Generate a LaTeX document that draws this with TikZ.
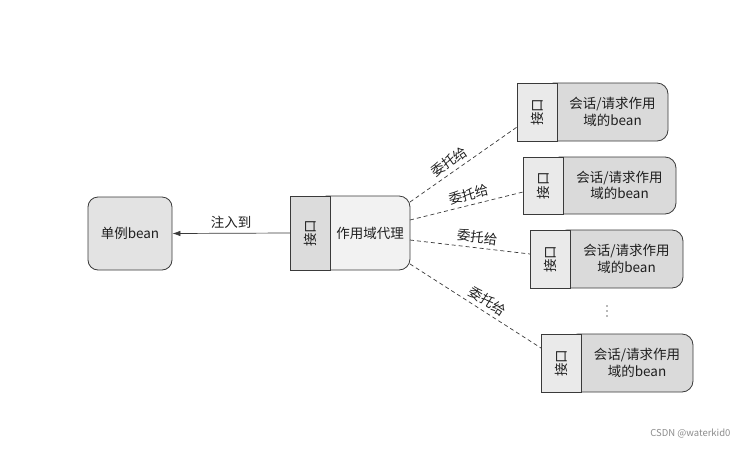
\documentclass[tikz,border=0pt]{standalone}
\usepackage{fontspec}
\usepackage{graphicx}
\newfontfamily\cjk{Noto Sans CJK SC}
\usetikzlibrary{arrows.meta,backgrounds}
\definecolor{edge}{HTML}{3A3A3A}
\definecolor{singfill}{HTML}{E3E3E3}
\definecolor{pxif}{HTML}{DCDCDC}
\definecolor{pxmain}{HTML}{F2F2F2}
\definecolor{rif}{HTML}{EAEAEA}
\definecolor{rmain}{HTML}{DADADA}
\begin{document}
\begin{tikzpicture}[x=1pt,y=-1pt,
  every node/.style={font=\cjk\fontsize{13.5}{16.5}\selectfont, text=black!88},
  holder/.style={inner sep=0pt, outer sep=0pt, align=center},
  ifbox/.style={draw=edge, line width=0.8pt, inner sep=0pt, outer sep=0pt, minimum width=40pt},
  bgshape/.style={draw=edge, line width=0.8pt, rounded corners=11pt},
  conn/.style={draw=edge, line width=0.7pt},
  deleg/.style={conn, dash pattern=on 4pt off 3pt},
  dlabel/.style={sloped, above, inner sep=1pt, yshift=3pt},
  dotmark/.style={fill=black!55, draw=none}]

\useasboundingbox (0,0) rectangle (745,448);

% singleton bean
\node[draw=edge, line width=0.8pt, fill=singfill, rounded corners=10pt,
      minimum width=84pt, minimum height=73pt, inner sep=0pt] (single) at (130,233.5) {单例bean};

% scoped proxy
\node[holder, minimum width=80pt, minimum height=74pt] (proxy) at (370,233) {作用域代理};
\node[ifbox, fill=pxif, minimum height=74pt, anchor=east] (proxyif) at (proxy.west) {\rotatebox{90}{接口}};

% session/request scoped beans
\node[holder, minimum width=111pt, minimum height=58pt] (m1) at (612.5,112) {会话/请求作用\\域的bean};
\node[ifbox, fill=rif, minimum height=58pt, anchor=east] (if1) at (m1.west) {\rotatebox{90}{接口}};
\node[holder, minimum width=113pt, minimum height=57pt] (m2) at (619.5,185.5) {会话/请求作用\\域的bean};
\node[ifbox, fill=rif, minimum height=57pt, anchor=east] (if2) at (m2.west) {\rotatebox{90}{接口}};
\node[holder, minimum width=113pt, minimum height=58pt] (m3) at (626.5,259) {会话/请求作用\\域的bean};
\node[ifbox, fill=rif, minimum height=58pt, anchor=east] (if3) at (m3.west) {\rotatebox{90}{接口}};
\node[holder, minimum width=112pt, minimum height=58pt] (m4) at (637,363) {会话/请求作用\\域的bean};
\node[ifbox, fill=rif, minimum height=58pt, anchor=east] (if4) at (m4.west) {\rotatebox{90}{接口}};

\begin{scope}[on background layer]
  \fill[white] (0,0) rectangle (745,448);
  \draw[bgshape, fill=pxmain] ([xshift=-14pt]proxy.north west) rectangle (proxy.south east);
  \draw[bgshape, fill=rmain] ([xshift=-14pt]m1.north west) rectangle (m1.south east);
  \draw[bgshape, fill=rmain] ([xshift=-14pt]m2.north west) rectangle (m2.south east);
  \draw[bgshape, fill=rmain] ([xshift=-14pt]m3.north west) rectangle (m3.south east);
  \draw[bgshape, fill=rmain] ([xshift=-14pt]m4.north west) rectangle (m4.south east);
\end{scope}

% injection arrow
\draw[conn, -{Latex[length=8pt,width=5.5pt]}] (proxyif.west) -- node[above, inner sep=4pt] (inj) {注入到} (single.east);

% delegation lines
\draw[deleg] ([yshift=31pt]proxy.east) -- node[dlabel, pos=0.42] (d1) {委托给} ([yshift=-15pt]if1.west);
\draw[deleg] ([yshift=13pt]proxy.east) -- node[dlabel, pos=0.54] (d2) {委托给} ([yshift=-6.5pt]if2.west);
\draw[deleg] ([yshift=-7pt]proxy.east) -- node[dlabel, pos=0.55] (d3) {委托给} ([yshift=5pt]if3.west);
\draw[deleg] ([yshift=-31pt]proxy.east) -- node[dlabel, pos=0.55] (d4) {委托给} ([yshift=15pt]if4.west);

% ellipsis
\fill[dotmark] (607,306) circle[radius=0.8];
\fill[dotmark] (607,311) circle[radius=0.8];
\fill[dotmark] (607,316) circle[radius=0.8];

% watermark
\node[font=\cjk\fontsize{9.5}{11}\selectfont, text=black!45, anchor=east] (wm) at (734,434) {CSDN @waterkid0};
\end{tikzpicture}
\end{document}
